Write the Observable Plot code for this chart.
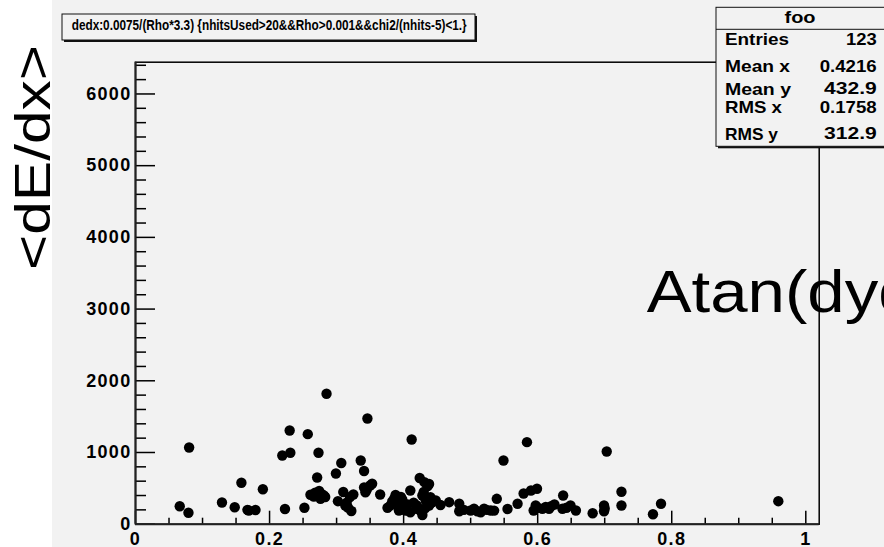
<!DOCTYPE html>
<html><head><meta charset="utf-8">
<script src="https://cdn.jsdelivr.net/npm/d3@7"></script>
<script src="https://cdn.jsdelivr.net/npm/@observablehq/plot@0.6"></script>
<style>
html,body{margin:0;padding:0;background:#f2f2f2;}
#wrap{position:relative;width:884px;height:547px;overflow:hidden;background:#f2f2f2;}
#wrap svg{position:absolute;left:0;top:0;}
#wrap g[aria-label$="tick label"] text{letter-spacing:1.3px;}
</style></head><body><div id="wrap"></div>
<script>
// Atan(dydx) values
const xVals = [0.066,0.079,0.080,0.129,0.148,0.158,0.169,0.179,0.190,0.219,0.231,0.230,0.223,0.252,0.257,0.273,0.271,0.285,0.261,0.274,
0.281,0.276,0.266,0.299,0.307,0.310,0.302,0.313,0.317,0.322,0.325,0.336,0.341,0.346,0.341,0.353,0.343,0.365,0.376,0.383,
0.388,0.393,0.398,0.406,0.403,0.393,0.410,0.412,0.424,0.431,0.436,0.428,0.433,0.440,0.448,0.438,0.425,0.428,0.410,0.419,
0.455,0.468,0.483,0.483,0.500,0.505,0.515,0.520,0.530,0.539,0.549,0.555,0.570,0.579,0.590,0.599,0.584,0.594,0.597,0.607,
0.617,0.625,0.637,0.638,0.649,0.657,0.682,0.699,0.699,0.703,0.725,0.725,0.772,0.784,0.959,
0.278,0.283,0.268,0.320,0.315,0.345,0.350,0.380,0.386,0.391,0.400,0.396,0.415,0.420,0.432,0.442,0.430,0.438,0.490,0.510,
0.524,0.535,0.600,0.612,0.620,0.643,0.700,0.167];
// <dE/dx> values
const yVals = [251,159,1070,303,237,578,191,198,487,958,996,1307,212,230,1256,996,651,1819,410,463,
400,354,386,707,854,449,321,261,233,184,414,889,742,1474,512,564,446,414,229,317,
407,247,345,275,191,191,470,1181,644,586,533,400,331,377,331,261,191,128,167,215,
268,307,285,180,191,215,167,215,191,354,889,212,285,428,470,494,1144,191,261,215,
215,275,215,400,261,191,153,261,181,1014,452,261,139,285,321,
420,380,440,380,300,480,540,260,360,280,230,380,300,260,220,300,450,560,200,180,
200,190,230,240,250,230,220,200];

const xMajorTicks = [0, 0.2, 0.4, 0.6, 0.8, 1];
const yMajorTicks = [0, 1000, 2000, 3000, 4000, 5000, 6000];
const xMinorTicks = d3.range(0, 21).map(i => i * 0.05).filter(v => Math.abs(v / 0.2 - Math.round(v / 0.2)) > 1e-6);
const yMinorTicks = d3.range(0, 33).map(i => i * 200).filter(v => v % 1000 !== 0);

const statLabels = ["Entries", "Mean x", "Mean y", "RMS x", "RMS y"];
const statValues = ["123", "0.4216", "432.9", "0.1758", "312.9"];
const histTitle = "dedx:0.0075/(Rho*3.3) {nhitsUsed>20&&Rho>0.001&&chi2/(nhits-5)<1.}";
const statsName = "foo";
const xTitle = "Atan(dydx)";
const yTitle = "<dE/dx>";

const points = xVals.map((x, i) => ({x, y: yVals[i]}));

const W = 884, H = 547, mL = 135, mR = 65.3, mT = 61.7, mB = 23.3;
const fh = H - mT - mB, fw = W - mL - mR;

const chart = Plot.plot({
  width: W, height: H,
  marginLeft: mL, marginRight: mR, marginTop: mT, marginBottom: mB,
  x: {domain: [0, 1.02]},
  y: {domain: [0, 6443]},
  style: {background: "transparent", fontFamily: "'Liberation Sans', Arial, sans-serif", fontWeight: "bold", fontSize: "18px", color: "black"},
  marks: [
    Plot.frame({stroke: "black", strokeWidth: 1.5}),
    Plot.tickX(xMinorTicks, {x: d => d, insetTop: fh - 6, stroke: "black", strokeWidth: 1.5}),
    Plot.tickX(xMajorTicks, {x: d => d, insetTop: fh - 13, stroke: "black", strokeWidth: 1.5}),
    Plot.tickY(yMinorTicks, {y: d => d, insetRight: fw - 11, stroke: "black", strokeWidth: 1.5}),
    Plot.tickY(yMajorTicks, {y: d => d, insetRight: fw - 20, stroke: "black", strokeWidth: 1.5}),
    Plot.ruleX([0], {stroke: "#222", strokeWidth: 2}),
    Plot.ruleY([0], {stroke: "#222", strokeWidth: 2}),
    Plot.axisX({ticks: xMajorTicks, tickSize: 0, tickPadding: 8, tickFormat: d => String(d), label: null, fontSize: 18}),
    Plot.axisY({ticks: yMajorTicks, tickSize: 0, tickPadding: 4, tickFormat: d => String(d), label: null, fontSize: 18}),
    Plot.dot(points, {x: "x", y: "y", r: 5.2, fill: "black", stroke: "none"})
  ]
});
document.getElementById("wrap").appendChild(chart);

// annotation overlay: title pave, stats pave, axis titles
const ns = "http://www.w3.org/2000/svg";
const ov = document.createElementNS(ns, "svg");
ov.setAttribute("width", W); ov.setAttribute("height", H);
function el(tag, attrs, text) {
  const e = document.createElementNS(ns, tag);
  for (const k in attrs) e.setAttribute(k, attrs[k]);
  if (text != null) e.textContent = text;
  ov.appendChild(e);
  return e;
}
const FF = "'Liberation Sans', Arial, sans-serif";
el("rect", {x: 0, y: 0, width: 52, height: H, fill: "#ffffff"});
el("text", {transform: "translate(50,270) rotate(-90)", "font-family": FF, "font-size": 50, textLength: 225, lengthAdjust: "spacingAndGlyphs", fill: "black"}, yTitle);

// title pave
el("rect", {x: 64, y: 16, width: 413, height: 26, fill: "#111"});
el("rect", {x: 62, y: 14, width: 413, height: 26, fill: "#f2f2f2", stroke: "#111", "stroke-width": 1});
el("text", {x: 71.7, y: 29.5, "font-family": FF, "font-weight": "bold", "font-size": 14, textLength: 395, lengthAdjust: "spacingAndGlyphs", fill: "black"}, histTitle);

// stats pave
el("rect", {x: 718, y: 9.3, width: 180, height: 139, fill: "#111"});
el("rect", {x: 716, y: 7.3, width: 180, height: 139, fill: "#f2f2f2", stroke: "#111", "stroke-width": 1});
el("line", {x1: 716, x2: 884, y1: 29.3, y2: 29.3, stroke: "#111", "stroke-width": 1});
el("text", {x: 800, y: 22.5, "text-anchor": "middle", "font-family": FF, "font-weight": "bold", "font-size": 16, textLength: 31, lengthAdjust: "spacingAndGlyphs", fill: "black"}, statsName);
const labBase = [45, 71.5, 95, 113, 140];
const valBase = [45, 71.5, 94, 113, 139.3];
const labLen = [64, 65, 66, 57, 53];
const valLen = [30.7, 57, 52.7, 57, 52.7];
statLabels.forEach((s, i) => {
  el("text", {x: 725, y: labBase[i], "font-family": FF, "font-weight": "bold", "font-size": 16.5, textLength: labLen[i], lengthAdjust: "spacingAndGlyphs", fill: "black"}, s);
  el("text", {x: 876.7 - valLen[i], y: valBase[i], "font-family": FF, "font-weight": "bold", "font-size": 16.5, textLength: valLen[i], lengthAdjust: "spacingAndGlyphs", fill: "black"}, statValues[i]);
});

// x-axis title (placed as in the reference, running off the right edge)
el("text", {transform: "translate(646.7,311.7) scale(1.12,1)", "font-family": FF, "font-size": 60, fill: "black"}, xTitle);

document.getElementById("wrap").appendChild(ov);
</script>
</body></html>
